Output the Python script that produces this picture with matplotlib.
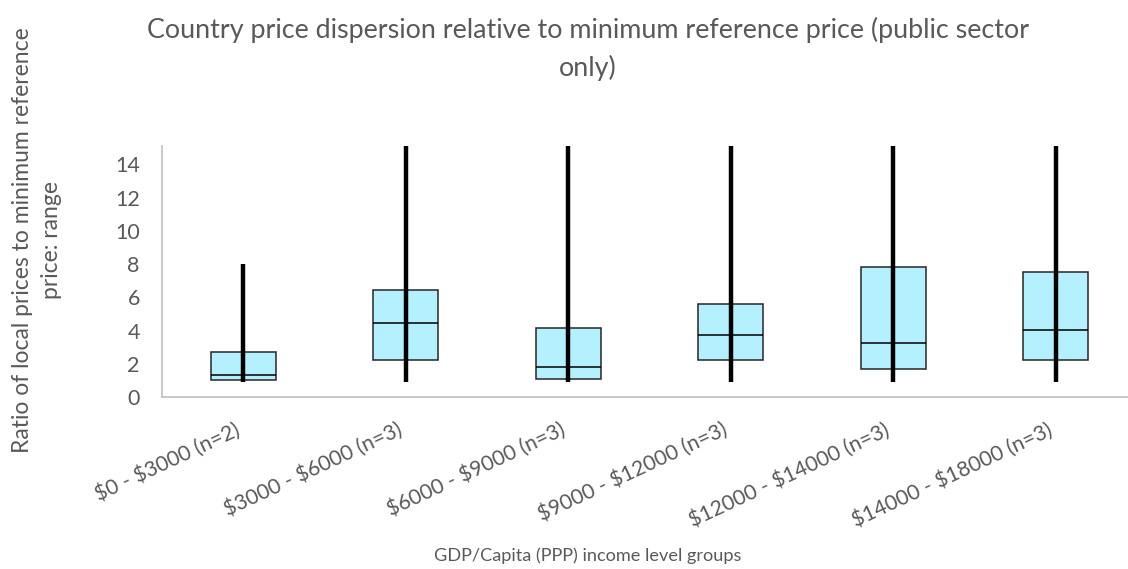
import matplotlib
matplotlib.use('Agg')
import matplotlib.pyplot as plt
from matplotlib.transforms import ScaledTranslation

plt.rcParams['font.family'] = ['Lato', 'DejaVu Sans']
plt.rcParams['text.parse_math'] = False

groups = ['$0 - $3000 (n=2)', '$3000 - $6000 (n=3)', '$6000 - $9000 (n=3)',
          '$9000 - $12000 (n=3)', '$12000 - $14000 (n=3)', '$14000 - $18000 (n=3)']

# price ratio spread per income group
low = [0.9, 0.9, 0.9, 0.9, 0.9, 0.9]
q1 = [1.0, 2.24, 1.06, 2.2, 1.7, 2.24]
median = [1.3, 4.45, 1.82, 3.71, 3.23, 4.03]
q3 = [2.7, 6.41, 4.16, 5.57, 7.85, 7.49]
high = [8.0, 17.0, 17.0, 17.0, 17.0, 17.0]

GREY = '#595959'

fig = plt.figure(figsize=(11.28, 5.69), dpi=100)
ax = fig.add_axes([162 / 1128, 172 / 569, 975 / 1128, 251 / 569])

x = range(len(groups))
ax.bar(x, [b - a for a, b in zip(q1, q3)], bottom=q1, width=0.4,
       color='#b4f0fd', edgecolor='#262626', linewidth=1.1, zorder=2)
ax.hlines(median, [i - 0.2 for i in x], [i + 0.2 for i in x],
          color='black', linewidth=1.1, zorder=3)
ax.vlines(x, low, high, color='black', linewidth=3.2, zorder=4)

ax.set_xlim(-0.5, len(groups) - 0.5)
ax.set_ylim(0, 15.1)
ax.set_yticks(range(0, 15, 2))
ax.tick_params(length=0, labelcolor=GREY)
ax.tick_params(axis='y', pad=16, labelsize=15.5)
ax.tick_params(axis='x', pad=16, labelsize=15.2)
ax.set_xticks(list(x))
ax.set_xticklabels(groups, rotation=25, ha='right', va='top',
                   rotation_mode='anchor')
shift = ScaledTranslation(-9 / 100, 0, fig.dpi_scale_trans)
for lab in ax.get_xticklabels():
    lab.set_transform(lab.get_transform() + shift)

for side in ['top', 'right']:
    ax.spines[side].set_visible(False)
ax.spines['left'].set_color('#bfbfbf')
ax.spines['bottom'].set_color('#bfbfbf')
ax.spines['left'].set_linewidth(1.2)
ax.spines['bottom'].set_linewidth(1.2)

fig.text(588 / 1128, 1 - 49 / 569,
         'Country price dispersion relative to minimum reference price (public sector\nonly)',
         ha='center', va='center', fontsize=19.4, color=GREY, linespacing=1.55)
fig.text(37 / 1128, 1 - 240 / 569,
         'Ratio of local prices to minimum reference\nprice: range',
         ha='center', va='center', rotation=90, fontsize=16.5, color=GREY,
         linespacing=1.5)
fig.text(588 / 1128, 1 - 556 / 569, 'GDP/Capita (PPP) income level groups',
         ha='center', va='center', fontsize=13.1, color=GREY)

fig.savefig('out.png', dpi=100)
